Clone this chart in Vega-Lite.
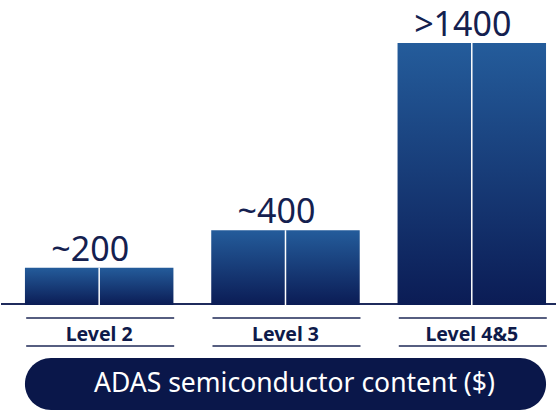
{
  "$schema": "https://vega.github.io/schema/vega-lite/v6.json",
  "width": 557,
  "height": 411,
  "autosize": {"type": "fit", "contains": "padding"},
  "padding": 0,
  "background": "white",
  "config": {"view": {"stroke": null}, "font": "Noto Sans"},
  "data": {
    "values": [
      {"level": "Level 2", "value": 200, "label": "~200"},
      {"level": "Level 3", "value": 400, "label": "~400"},
      {"level": "Level 4&5", "value": 1400, "label": ">1400"}
    ]
  },
  "encoding": {
    "x": {
      "field": "level",
      "type": "nominal",
      "sort": null,
      "axis": null,
      "scale": {"paddingInner": 0.203, "paddingOuter": 0.091, "align": 0.706}
    }
  },
  "layer": [
    {
      "mark": {"type": "rule", "color": "#1f2b5c", "strokeWidth": 2, "yOffset": -1},
      "encoding": {"x": null, "y": {"datum": 0, "type": "quantitative", "scale": {"domain": [-566, 1630], "nice": false, "zero": false}, "axis": null}}
    },
    {
      "mark": {
        "type": "bar",
        "color": {
          "gradient": "linear",
          "x1": 0, "y1": 0, "x2": 0, "y2": 1,
          "stops": [
            {"offset": 0, "color": "#245c9b"},
            {"offset": 1, "color": "#0b1c55"}
          ]
        }
      },
      "encoding": {
        "y": {"field": "value", "type": "quantitative", "axis": null},
        "y2": {"datum": 0}
      }
    },
    {
      "mark": {"type": "rule", "color": "white", "strokeWidth": 1.5},
      "encoding": {
        "y": {"field": "value", "type": "quantitative"},
        "y2": {"datum": 0}
      }
    },
    {
      "mark": {"type": "text", "fontSize": 34, "color": "#14204f", "baseline": "alphabetic", "dy": -7, "dx": -9},
      "encoding": {
        "y": {"field": "value", "type": "quantitative"},
        "text": {"field": "label"}
      }
    },
    {
      "mark": {"type": "tick", "color": "#0e1a4a", "thickness": 2, "size": 148, "xOffset": 1, "yOffset": 13},
      "encoding": {"y": {"datum": 0, "type": "quantitative"}}
    },
    {
      "mark": {"type": "tick", "color": "#0e1a4a", "thickness": 2, "size": 148, "xOffset": 1, "yOffset": 41},
      "encoding": {"y": {"datum": 0, "type": "quantitative"}}
    },
    {
      "mark": {"type": "text", "fontSize": 19.5, "fontWeight": "bold", "color": "#0e1a4a", "baseline": "alphabetic", "dy": 36},
      "encoding": {
        "y": {"datum": 0, "type": "quantitative"},
        "text": {"field": "level"}
      }
    },
    {
      "data": {"values": [{"title": "ADAS semiconductor content ($)", "from": "Level 2", "to": "Level 4&5"}]},
      "layer": [
        {
          "mark": {"type": "bar", "color": "#0a174a", "cornerRadius": 26},
          "encoding": {
            "x": {"field": "from", "type": "nominal", "bandPosition": 0},
            "x2": {"field": "to", "bandPosition": 1},
            "y": {"datum": -283, "type": "quantitative"},
            "y2": {"datum": -561}
          }
        },
        {
          "mark": {"type": "text", "fontSize": 26.5, "color": "white", "baseline": "middle", "dx": 9},
          "encoding": {
            "x": {"datum": "Level 3"},
            "y": {"datum": -422, "type": "quantitative"},
            "text": {"field": "title"}
          }
        }
      ]
    }
  ]
}
